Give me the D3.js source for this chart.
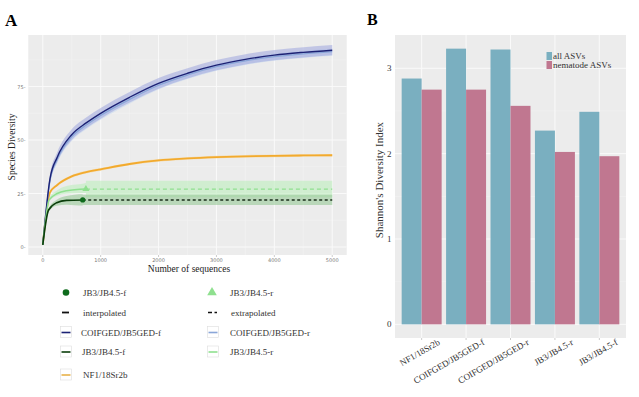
<!DOCTYPE html>
<html>
<head>
<meta charset="utf-8">
<script src="https://cdn.jsdelivr.net/npm/d3@7"></script>
<style>
  body { margin: 0; background: #fff; }
  svg { display: block; font-family: "Liberation Serif", "DejaVu Serif", serif; }
</style>
</head>
<body>
<div id="chart"></div>
<script>
// ---- panel A data (rarefaction curves) ----
const seqSteps = [0, 125, 250, 500, 750, 1000, 1500, 2000, 2500, 3000, 3500, 4000, 4500, 5000];
const coiF = [1, 32, 42, 52.5, 58, 62.5, 70, 76.5, 81.2, 85, 87.7, 89.7, 91, 92];
const coiR = [1, 31, 41, 51.5, 57, 61.5, 69, 75.6, 80.4, 84.3, 87, 89, 90.3, 91.3];
const nf1 = [1, 25.5, 29, 33, 35, 36.3, 38.8, 40.5, 41.4, 42, 42.4, 42.6, 42.8, 42.9];
const jbFSteps = [0, 100, 240, 410, 690];
const jbF = [1, 17.3, 20.7, 21.8, 22];
const jbRSteps = [0, 110, 250, 410, 745];
const jbR = [1, 22, 25, 26.3, 27.1];
const jbFExtra = [[690, 22, 19.6, 24.4], [5000, 22, 19.6, 24.4]];
const jbRExtra = [[745, 27.1, 23.2, 31], [5000, 27.1, 23.2, 31]];
const coiBand = [1, 2, 2.3, 2.5, 2.5, 2.5, 2.5, 2.5, 2.4, 2.4, 2.4, 2.4, 2.4, 2.4];
const xTicksA = [0, 1000, 2000, 3000, 4000, 5000];
const yTicksA = [0, 25, 50, 75];

// ---- panel B data (Shannon index) ----
const primers = ["NF1/18Sr2b", "COIFGED/JB5GED-f", "COIFGED/JB5GED-r", "JB3/JB4.5-r", "JB3/JB4.5-f"];
const allASVs = [2.88, 3.23, 3.22, 2.27, 2.49];
const nematodeASVs = [2.75, 2.75, 2.56, 2.02, 1.97];
const seriesB = ["all ASVs", "nematode ASVs"];
const yTicksB = [0, 1, 2, 3];

const W = 639, H = 397;
const svg = d3.select("#chart").append("svg").attr("width", W).attr("height", H);

// ================= Panel A =================
const ax = d3.scaleLinear().domain([-250, 5250]).range([28.3, 346.7]);
const ay = d3.scaleLinear().domain([-3.74, 99.1]).range([255, 35]);

const gA = svg.append("g");
gA.append("rect").attr("x", 28.3).attr("y", 35).attr("width", 318.4).attr("height", 220).attr("fill", "#ececec");

// minor grid
const minorX = [500, 1500, 2500, 3500, 4500];
const minorY = [12.5, 37.5, 62.5, 87.5];
gA.selectAll(".mx").data(minorX).enter().append("line")
  .attr("x1", d => ax(d)).attr("x2", d => ax(d)).attr("y1", 35).attr("y2", 255)
  .attr("stroke", "#f4f4f4").attr("stroke-width", 0.5);
gA.selectAll(".my").data(minorY).enter().append("line")
  .attr("y1", d => ay(d)).attr("y2", d => ay(d)).attr("x1", 28.3).attr("x2", 346.7)
  .attr("stroke", "#f4f4f4").attr("stroke-width", 0.5);
gA.selectAll(".gx").data(xTicksA).enter().append("line")
  .attr("x1", d => ax(d)).attr("x2", d => ax(d)).attr("y1", 35).attr("y2", 255)
  .attr("stroke", "#fafafa").attr("stroke-width", 1);
gA.selectAll(".gy").data(yTicksA).enter().append("line")
  .attr("y1", d => ay(d)).attr("y2", d => ay(d)).attr("x1", 28.3).attr("x2", 346.7)
  .attr("stroke", "#fafafa").attr("stroke-width", 1);

const lineA = d3.line().x(d => ax(d[0])).y(d => ay(d[1])).curve(d3.curveMonotoneX);
const bandA = d3.area().x(d => ax(d[0])).y0(d => ay(d[2])).y1(d => ay(d[3])).curve(d3.curveMonotoneX);

// ribbons
const coiRows = seqSteps.map((s, i) => [s, coiF[i], coiF[i] - coiBand[i], coiF[i] + coiBand[i]]);
const coiRRows = seqSteps.map((s, i) => [s, coiR[i], coiR[i] - coiBand[i] * 0.8, coiR[i] + coiBand[i] * 0.6]);
gA.append("path").datum(coiRRows).attr("d", bandA).attr("fill", "#c9daf0").attr("opacity", 0.6);
gA.append("path").datum(coiRows).attr("d", bandA).attr("fill", "#9ea6de").attr("opacity", 0.55);
const nfRows = seqSteps.map((s, i) => [s, nf1[i], nf1[i] - 0.6, nf1[i] + 0.6]);
gA.append("path").datum(nfRows).attr("d", bandA).attr("fill", "#f6d9a0").attr("opacity", 0.7);
const jbRRows = jbRSteps.map((s, i) => [s, jbR[i], jbR[i] - 1.5 * i / 4 - 0.3, jbR[i] + 2.5 * i / 4 + 0.3]);
gA.append("path").datum(jbRRows.concat(jbRExtra)).attr("d", bandA).attr("fill", "#c4eec4").attr("opacity", 0.7);
const jbFRows = jbFSteps.map((s, i) => [s, jbF[i], jbF[i] - 2.4 * i / 4 - 0.2, jbF[i] + 2.4 * i / 4 + 0.2]);
gA.append("path").datum(jbFRows.concat(jbFExtra)).attr("d", bandA).attr("fill", "#98c998").attr("opacity", 0.6);

// lines
gA.append("path").datum(seqSteps.map((s, i) => [s, nf1[i]])).attr("d", lineA)
  .attr("fill", "none").attr("stroke", "#f2aa2e").attr("stroke-width", 1.8);
gA.append("path").datum(seqSteps.map((s, i) => [s, coiR[i]])).attr("d", lineA)
  .attr("fill", "none").attr("stroke", "#8aa6d8").attr("stroke-width", 1.3);
gA.append("path").datum(seqSteps.map((s, i) => [s, coiF[i]])).attr("d", lineA)
  .attr("fill", "none").attr("stroke", "#1c2275").attr("stroke-width", 1.4);
gA.append("path").datum(jbRSteps.map((s, i) => [s, jbR[i]])).attr("d", lineA)
  .attr("fill", "none").attr("stroke", "#8fe08f").attr("stroke-width", 1.5);
gA.append("path").datum(jbRExtra).attr("d", lineA)
  .attr("fill", "none").attr("stroke", "#8fe08f").attr("stroke-width", 1.2).attr("stroke-dasharray", "4,3");
gA.append("path").datum(jbFSteps.map((s, i) => [s, jbF[i]])).attr("d", lineA)
  .attr("fill", "none").attr("stroke", "#0a3d0a").attr("stroke-width", 1.6);
gA.append("path").datum(jbFExtra).attr("d", lineA)
  .attr("fill", "none").attr("stroke", "#1a2e1a").attr("stroke-width", 1.6).attr("stroke-dasharray", "3,2.5");

// end points
gA.append("circle").attr("cx", ax(jbFSteps[4])).attr("cy", ay(jbF[4])).attr("r", 2.6).attr("fill", "#0e6b1c");
gA.append("path").attr("d", d3.symbol(d3.symbolTriangle, 22)())
  .attr("transform", `translate(${ax(jbRSteps[4])},${ay(jbR[4])})`).attr("fill", "#8fe08f");

// axes A
gA.selectAll(".ytA").data(yTicksA).enter().append("text")
  .attr("x", 25.5).attr("y", d => ay(d) + 2).attr("text-anchor", "end")
  .attr("font-family", "DejaVu Sans, sans-serif").attr("font-size", 5).attr("fill", "#777")
  .text(d => d + "-");
gA.selectAll(".xtA").data(xTicksA).enter().append("text")
  .attr("x", d => ax(d)).attr("y", 262).attr("text-anchor", "middle")
  .attr("font-family", "DejaVu Sans, sans-serif").attr("font-size", 5).attr("fill", "#777")
  .text(d => d);
gA.selectAll(".xtkA").data(xTicksA).enter().append("line")
  .attr("x1", d => ax(d)).attr("x2", d => ax(d)).attr("y1", 255).attr("y2", 257)
  .attr("stroke", "#999").attr("stroke-width", 0.5);
gA.append("text").attr("x", 189).attr("y", 272).attr("text-anchor", "middle")
  .attr("font-size", 9.5).attr("fill", "#222").text("Number of sequences");
gA.append("text").attr("transform", "translate(15,147) rotate(-90)").attr("text-anchor", "middle")
  .attr("font-size", 9.5).attr("fill", "#222").text("Species Diversity");
svg.append("text").attr("x", 5).attr("y", 26).attr("font-size", 17).attr("font-weight", "bold").text("A");

// legend A
const legA = svg.append("g").attr("font-size", 9).attr("fill", "#333");
function keyBox(x, y, color) {
  legA.append("rect").attr("x", x - 5.5).attr("y", y - 6).attr("width", 11).attr("height", 11)
    .attr("fill", "#fff").attr("stroke", "#ddd").attr("stroke-width", 0.6);
  legA.append("line").attr("x1", x - 4.5).attr("x2", x + 4.5).attr("y1", y).attr("y2", y)
    .attr("stroke", color).attr("stroke-width", 1.6);
}
legA.append("circle").attr("cx", 66).attr("cy", 292.5).attr("r", 3.3).attr("fill", "#0e6b1c");
legA.append("text").attr("x", 83).attr("y", 295.5).text("JB3/JB4.5-f");
legA.append("path").attr("d", d3.symbol(d3.symbolTriangle, 40)())
  .attr("transform", "translate(212,292.5)").attr("fill", "#8fe08f");
legA.append("text").attr("x", 230).attr("y", 295.5).text("JB3/JB4.5-r");
legA.append("line").attr("x1", 62).attr("x2", 69).attr("y1", 312.5).attr("y2", 312.5).attr("stroke", "#111").attr("stroke-width", 1.8);
legA.append("text").attr("x", 83).attr("y", 315.5).text("interpolated");
legA.append("line").attr("x1", 208).attr("x2", 217).attr("y1", 312.5).attr("y2", 312.5).attr("stroke", "#111")
  .attr("stroke-width", 1.6).attr("stroke-dasharray", "4,2.5");
legA.append("text").attr("x", 231).attr("y", 315.5).text("extrapolated");
keyBox(66, 332.5, "#1c2275");
legA.append("text").attr("x", 81).attr("y", 335.5).text("COIFGED/JB5GED-f");
keyBox(213, 332.5, "#8aa6d8");
legA.append("text").attr("x", 230).attr("y", 335.5).text("COIFGED/JB5GED-r");
keyBox(66, 352, "#0a3d0a");
legA.append("text").attr("x", 82).attr("y", 355).text("JB3/JB4.5-f");
keyBox(213, 352, "#8fe08f");
legA.append("text").attr("x", 230).attr("y", 355).text("JB3/JB4.5-r");
keyBox(66, 375, "#e8b24a");
legA.append("text").attr("x", 83).attr("y", 378).text("NF1/18Sr2b");

// ================= Panel B =================
const bx = d3.scaleLinear().domain([-0.6, primers.length - 0.4]).range([395, 626]);
const by = d3.scaleLinear().domain([-0.16, 3.39]).range([338, 35]);
const step = bx(1) - bx(0);
const barW = step * 0.45;
const colB = ["#7aafc0", "#c07790"];

const gB = svg.append("g");
gB.append("rect").attr("x", 395).attr("y", 35).attr("width", 231).attr("height", 303).attr("fill", "#ececec");
gB.selectAll(".myB").data([0.5, 1.5, 2.5]).enter().append("line")
  .attr("x1", 395).attr("x2", 626).attr("y1", d => by(d)).attr("y2", d => by(d))
  .attr("stroke", "#f4f4f4").attr("stroke-width", 0.5);
gB.selectAll(".gyB").data(yTicksB).enter().append("line")
  .attr("x1", 395).attr("x2", 626).attr("y1", d => by(d)).attr("y2", d => by(d))
  .attr("stroke", "#fafafa").attr("stroke-width", 1);
gB.selectAll(".gxB").data(primers).enter().append("line")
  .attr("x1", (d, i) => bx(i)).attr("x2", (d, i) => bx(i)).attr("y1", 35).attr("y2", 338)
  .attr("stroke", "#fafafa").attr("stroke-width", 1);

gB.selectAll(".barAll").data(allASVs).enter().append("rect")
  .attr("x", (d, i) => bx(i) - barW).attr("width", barW)
  .attr("y", d => by(d)).attr("height", d => by(0) - by(d)).attr("fill", colB[0]);
gB.selectAll(".barNem").data(nematodeASVs).enter().append("rect")
  .attr("x", (d, i) => bx(i)).attr("width", barW)
  .attr("y", d => by(d)).attr("height", d => by(0) - by(d)).attr("fill", colB[1]);

// axes B
gB.selectAll(".ytB").data(yTicksB).enter().append("text")
  .attr("x", 391.5).attr("y", d => by(d) + 3).attr("text-anchor", "end")
  .attr("font-size", 9).attr("fill", "#333").text(d => d);
gB.selectAll(".xtkB").data(primers).enter().append("line")
  .attr("x1", (d, i) => bx(i)).attr("x2", (d, i) => bx(i)).attr("y1", 338).attr("y2", 340)
  .attr("stroke", "#aaa").attr("stroke-width", 0.6);
gB.selectAll(".xlB").data(primers).enter().append("text")
  .attr("transform", (d, i) => `translate(${bx(i) + 19},${344}) rotate(-30)`)
  .attr("text-anchor", "end").attr("font-size", 9).attr("fill", "#333").text(d => d);
gB.append("text").attr("transform", "translate(383,180) rotate(-90)").attr("text-anchor", "middle")
  .attr("font-size", 11).attr("fill", "#333").text("Shannon's Diversity Index");
svg.append("text").attr("x", 367).attr("y", 25).attr("font-size", 16).attr("font-weight", "bold").text("B");

// legend B
const legB = svg.append("g").attr("font-size", 9).attr("fill", "#333");
seriesB.forEach((s, i) => {
  legB.append("rect").attr("x", 546.5).attr("y", 52 + i * 9).attr("width", 5.5).attr("height", 8).attr("fill", colB[i]);
  legB.append("text").attr("x", 553).attr("y", 59 + i * 9).text(s);
});
</script>
</body>
</html>
